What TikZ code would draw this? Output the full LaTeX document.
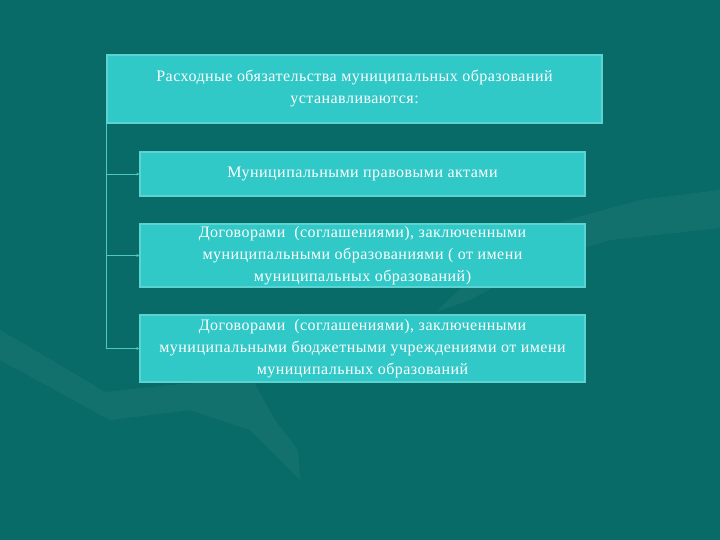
\documentclass[tikz,border=0pt]{standalone}
\usepackage{fontspec}
\setmainfont{Liberation Serif}[LetterSpace=3]
\usetikzlibrary{arrows.meta}
\definecolor{bgteal}{HTML}{096B67}
\definecolor{boxfill}{HTML}{31C8C8}
\definecolor{boxedge}{HTML}{5CD3D0}
\definecolor{linkcol}{HTML}{52C8C6}
\tikzset{
  box/.style={draw=boxedge, line width=1.2pt, fill=boxfill, text=white, align=center,
    inner sep=2pt, font=\fontsize{16}{22}\selectfont},
  link/.style={draw=linkcol, line width=0.7pt},
  linkarrow/.style={link, -{Stealth[length=3pt,width=3pt]}},
  swoosh/.style={fill=white, fill opacity=0.045, draw=none}
}
\begin{document}
\begin{tikzpicture}[x=1pt,y=-1pt]
\fill[bgteal] (0,0) rectangle (720,540);
\useasboundingbox (0,0) rectangle (720,540);
% faint background swooshes
\path[swoosh] (720,190) -- (640,200) -- (560,222) -- (500,250) -- (436,312) -- (470,300) -- (540,262) -- (610,240) -- (720,228) -- cycle;
\path[swoosh] (0,330) -- (60,365) -- (105,392) -- (170,385) -- (252,379) -- (275,420) -- (298,450) -- (300,480) -- (250,430) -- (190,410) -- (110,420) -- (0,360) -- cycle;
% boxes
\node[box, minimum width=495pt, minimum height=68pt] (top) at (354.5,89)
  {Расходные обязательства муниципальных образований\\устанавливаются:};
\node[box, minimum width=445pt, minimum height=44pt] (b2) at (362.5,174)
  {Муниципальными правовыми актами};
\node[box, minimum width=445pt, minimum height=63pt] (b3) at (362.5,255.5)
  {Договорами \ (соглашениями), заключенными\\муниципальными образованиями ( от имени\\муниципальных образований)};
\node[box, minimum width=445pt, minimum height=67pt] (b4) at (362.5,348.5)
  {Договорами \ (соглашениями), заключенными\\муниципальными бюджетными учреждениями от имени\\муниципальных образований};
% connectors
\coordinate (v2) at (top.south west |- b2.west);
\coordinate (v3) at (top.south west |- b3.west);
\coordinate (v4) at (top.south west |- b4.west);
\draw[link] (top.south west) -- (v4);
\draw[linkarrow] (v2) -- (b2.west);
\draw[linkarrow] (v3) -- (b3.west);
\draw[linkarrow] (v4) -- (b4.west);
\end{tikzpicture}
\end{document}
